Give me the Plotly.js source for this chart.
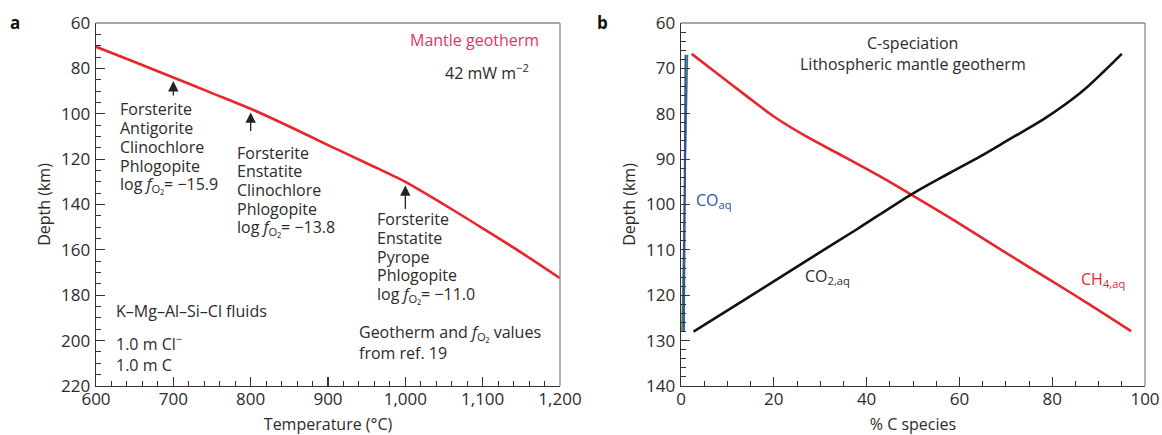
<!DOCTYPE html>
<html><head><meta charset="utf-8">
<script src="https://cdn.plot.ly/plotly-3.0.1.min.js"></script>
<style>html,body{margin:0;padding:0;background:#fff}</style>
</head><body><div id="chart" style="width:1162px;height:435px"></div>
<script>
// ---- Panel a: mantle geotherm (temperature °C vs depth km)
const geoTemp  = [600, 650, 700, 750, 800, 850, 900, 950, 1000, 1050, 1100, 1150, 1200];
const geoDepth = [70.5, 77.2, 84.0, 90.9, 97.8, 105.6, 113.8, 121.8, 130.0, 140.0, 150.5, 161.2, 172.5];
// arrows point at the geotherm at these temperatures
const arrowTemps = [700, 800, 1000];
const assemblages = [
  ['Forsterite','Antigorite','Clinochlore','Phlogopite','log <i>f</i><sub>O₂</sub>= −15.9'],
  ['Forsterite','Enstatite','Clinochlore','Phlogopite','log <i>f</i><sub>O₂</sub>= −13.8'],
  ['Forsterite','Enstatite','Pyrope','Phlogopite','log <i>f</i><sub>O₂</sub>= −11.0']
];
const xTicksA = [600, 700, 800, 900, 1000, 1100, 1200];
const yTicksA = [60, 80, 100, 120, 140, 160, 180, 200, 220];

// ---- Panel b: C-speciation (% C species vs depth km)
const ch4Pct   = [2.3, 8.0, 14.0, 20.0, 27.0, 35.0, 42.9, 49.6, 58.7, 69.0, 79.5, 88.0, 97.0];
const ch4Depth = [66.8, 71.3, 76.0, 80.6, 85.0, 89.4, 93.8, 97.8, 103.4, 110.0, 116.6, 122.0, 127.9];
const co2Pct   = [2.7, 14.0, 26.4, 38.0, 49.6, 58.0, 64.5, 71.0, 78.0, 83.0, 87.0, 91.0, 95.0];
const co2Depth = [128.0, 120.8, 112.8, 105.4, 97.8, 93.0, 89.4, 85.5, 81.3, 77.8, 74.6, 70.8, 66.8];
const coPct    = [1.0, 0.8, 0.6];
const coDepth  = [67, 97.5, 128];
const minorPct = [1.4, 0.8, 0.2];
const minorDepth = [67, 97.5, 128];
const xTicksB = [0, 20, 40, 60, 80, 100];
const yTicksB = [60, 70, 80, 90, 100, 110, 120, 130, 140];

const W = 1162, H = 435;
const FONT = 'Open Sans, Liberation Sans, sans-serif';
const TXT = '#2b2b2b';
const RED = '#e8262a';
const px = x => x / W, py = y => 1 - y / H;

const axisCommon = {
  tickmode: 'linear',
  ticks: 'inside', ticklen: 9, tickwidth: 1.2, tickcolor: '#333',
  showline: true, linecolor: '#333', linewidth: 1.4,
  showgrid: false, zeroline: false,
  tickfont: {family: FONT, size: 17, color: TXT},
  ticklabelstandoff: 1
};
const lin = arr => ({tick0: arr[0], dtick: arr[1] - arr[0], range: [arr[0], arr[arr.length - 1]]});
const linRev = arr => ({tick0: arr[0], dtick: arr[1] - arr[0], range: [arr[arr.length - 1], arr[0]]});
const minor = d => ({dtick: d, ticks: 'inside', ticklen: 5, tickcolor: '#333', tickwidth: 1, showgrid: false});

const traces = [
  {x: geoTemp, y: geoDepth, xaxis: 'x', yaxis: 'y', mode: 'lines',
   line: {color: RED, width: 2.6, shape: 'spline', smoothing: 0.8}, hoverinfo: 'skip'},
  {x: minorPct, y: minorDepth, xaxis: 'x2', yaxis: 'y2', mode: 'lines',
   line: {color: '#2e8b3e', width: 1.5}, hoverinfo: 'skip'},
  {x: coPct, y: coDepth, xaxis: 'x2', yaxis: 'y2', mode: 'lines',
   line: {color: '#3a4fb0', width: 2.2}, hoverinfo: 'skip'},
  {x: ch4Pct, y: ch4Depth, xaxis: 'x2', yaxis: 'y2', mode: 'lines',
   line: {color: RED, width: 2.6, shape: 'spline', smoothing: 0.8}, hoverinfo: 'skip'},
  {x: co2Pct, y: co2Depth, xaxis: 'x2', yaxis: 'y2', mode: 'lines',
   line: {color: '#111', width: 2.6, shape: 'spline', smoothing: 0.9}, hoverinfo: 'skip'}
];

const ann = [];
function txt(x, y, text, opt) {
  ann.push(Object.assign({xref: 'paper', yref: 'paper', x: px(x), y: py(y), text: text,
    showarrow: false, xanchor: 'left', yanchor: 'middle',
    font: {family: FONT, size: 16, color: TXT}}, opt || {}));
}
// panel labels
txt(15, 22, '<b>a</b>', {xanchor: 'center', font: {family: FONT, size: 17, color: '#111'}});
txt(602, 22, '<b>b</b>', {xanchor: 'center', font: {family: FONT, size: 17, color: '#111'}});

// panel a texts
txt(541, 40, 'Mantle geotherm', {xanchor: 'right', font: {family: FONT, size: 16, color: '#e5326a'}});
txt(531, 72, '42 mW m<sup>−2</sup>', {xanchor: 'right'});
const blockPos = [[118, 109.5], [235, 152.5], [375, 219]];
assemblages.forEach((lines, b) => {
  lines.forEach((s, i) => txt(blockPos[b][0], blockPos[b][1] + 18.8 * i, s));
});
txt(114, 311, 'K–Mg–Al–Si–Cl fluids');
txt(114, 343, '1.0 m Cl<sup>−</sup>');
txt(114, 365, '1.0 m C');
txt(357, 332, 'Geotherm and <i>f</i><sub>O₂</sub> values');
txt(357, 353, 'from ref. 19');

// arrows pointing at the geotherm
const arrowLen = [16, 20, 25];
arrowTemps.forEach((t, i) => {
  const d = geoDepth[geoTemp.indexOf(t)];
  ann.push({xref: 'x', yref: 'y', x: t, y: d + 1.6, ax: 0, ay: arrowLen[i],
    text: '', showarrow: true, arrowhead: 2, arrowsize: 1.6, arrowwidth: 1.3, arrowcolor: '#222'});
});

// panel b texts
txt(912, 43, 'C-speciation', {xanchor: 'center'});
txt(913, 64, 'Lithospheric mantle geotherm', {xanchor: 'center'});
txt(694, 200, 'CO<sub>aq</sub>', {font: {family: FONT, size: 16, color: '#3a4fb0'}});
txt(803, 276, 'CO<sub>2,aq</sub>');
txt(1079, 279, 'CH<sub>4,aq</sub>', {font: {family: FONT, size: 16, color: RED}});

const frame = (xr, yr) => [
  {type: 'line', xref: xr + ' domain', yref: yr + ' domain', x0: 0, x1: 1, y0: 1, y1: 1, line: {color: '#8a8a8a', width: 1.3}},
  {type: 'line', xref: xr + ' domain', yref: yr + ' domain', x0: 1, x1: 1, y0: 0, y1: 1, line: {color: '#8a8a8a', width: 1.3}}
];

const layout = {
  width: W, height: H, margin: {l: 0, r: 0, t: 0, b: 0},
  paper_bgcolor: '#fff', plot_bgcolor: '#fff', showlegend: false,
  font: {family: FONT, size: 16, color: TXT},
  xaxis: Object.assign({}, axisCommon, lin(xTicksA), {
    domain: [px(96), px(560)], anchor: 'y', ticklabelstandoff: -3,
    separatethousands: true, tickformat: ',d',
    minor: minor(20),
    title: {text: 'Temperature (°C)', font: {family: FONT, size: 16, color: TXT}, standoff: 18}
  }),
  yaxis: Object.assign({}, axisCommon, linRev(yTicksA), {
    domain: [py(386), py(23)], anchor: 'x',
    minor: minor(5),
    title: {text: 'Depth (km)', font: {family: FONT, size: 16, color: TXT}, standoff: 6}
  }),
  xaxis2: Object.assign({}, axisCommon, lin(xTicksB), {
    domain: [px(681), px(1145)], anchor: 'y2', ticklabelstandoff: -3,
    minor: minor(5),
    title: {text: '% C species', font: {family: FONT, size: 16, color: TXT}, standoff: 13}
  }),
  yaxis2: Object.assign({}, axisCommon, linRev(yTicksB), {
    domain: [py(386), py(23)], anchor: 'x2',
    minor: minor(2),
    title: {text: 'Depth (km)', font: {family: FONT, size: 16, color: TXT}, standoff: 6}
  }),
  shapes: frame('x', 'y').concat(frame('x2', 'y2')),
  annotations: ann
};

Plotly.newPlot('chart', traces, layout, {staticPlot: true, displayModeBar: false});
</script></body></html>
